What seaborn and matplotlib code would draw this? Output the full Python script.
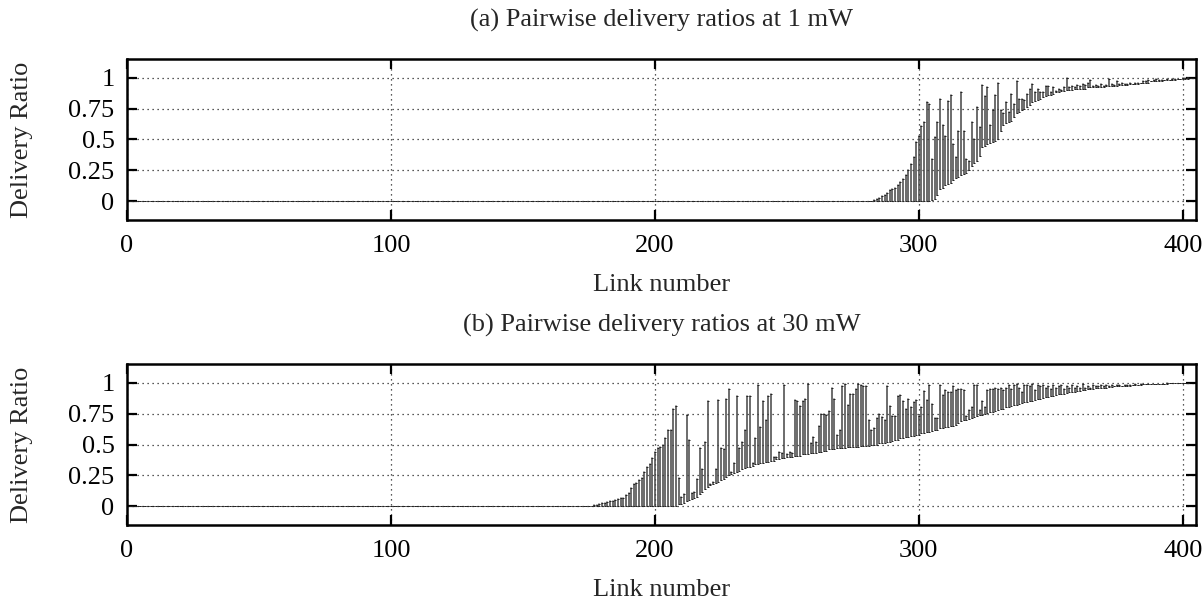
import numpy as np
import pandas as pd
import matplotlib
matplotlib.use("Agg")
import matplotlib.pyplot as plt
import seaborn as sns

# ---------------- data ----------------
TITLE_A = "(a) Pairwise delivery ratios at 1 mW"
TITLE_B = "(b) Pairwise delivery ratios at 30 mW"
X_LABEL = "Link number"
Y_LABEL = "Delivery Ratio"
X_TICKS = [0, 100, 200, 300, 400]
Y_TICKS = [0, 0.25, 0.5, 0.75, 1]
Y_TICK_LABELS = ["0", "0.25", "0.5", "0.75", "1"]

# panel (a): 405 links; links 0..304 have lower bound 0, links 0..282 upper bound 0
LOW_A = [0.0] * 305 + [
    .01, .02, .05, .10, .11, .13, .14, .15, .17, .19,
    .20, .21, .22, .23, .25, .29, .31, .33, .37, .44,
    .45, .46, .47, .48, .49, .50, .57, .62, .63, .64,
    .65, .68, .71, .72, .74, .75, .76, .78, .80, .81,
    .82, .83, .84, .85, .86, .86, .87, .88, .88, .89,
    .89, .90, .90, .90, .91, .91, .91, .91, .91, .92,
    .92, .92, .92, .92, .92, .92, .93, .93, .93, .93,
    .93, .94, .94, .94, .94, .95, .95, .95, .95, .96,
    .96, .96, .96, .97, .97, .97, .97, .97, .98, .98,
    .98, .98, .98, .99, .99, .99, .99, .99, 1.0, 1.0]
HIGH_A = [0.0] * 283 + [
    .01, .02, .03, .04, .05, .07, .09, .10, .11, .13,
    .16, .18, .21, .25, .30, .36, .48, .53, .61, .64,
    .80, .79, .34, .52, .64, .83, .62, .53, .81, .86,
    .46, .36, .57, .88, .57, .34, .33, .64, .50, .76,
    .60, .94, .85, .92, .62, .74, .86, .96, .74, .71,
    .80, .72, .87, .79, .97, .83, .83, .82, .87, .91,
    .95, .88, .91, .88, .88, .93, .93, .88, .92, .89,
    .91, .90, .92, 1.0, .92, .93, .92, .94, .93, .95,
    .94, .96, .98, .93, .94, .93, .95, .93, .94, .99,
    .95, .94, .97, .95, .96, .95, .95, .96, .95, .96,
    .96, .96, .97, .97, .98, .97, .98, .99, .98, .98,
    .98, .99, .98, .99, .99, .99, .99, 1.0, 1.0, 1.0,
    1.0, 1.0]

# panel (b): 403 links
LOW_B = [0.0] * 209 + [
    .02, .02, .03, .04, .05, .06, .07, .08, .10, .12,
    .14, .16, .17, .18, .19, .20, .21, .22, .24, .25,
    .26, .27, .28, .29, .30, .31, .32, .32, .33, .34,
    .34, .35, .35, .36, .36, .37, .37, .38, .38, .39,
    .39, .40, .40, .40, .41, .41, .41, .42, .42, .42,
    .43, .43, .43, .44, .44, .45, .45, .46, .46, .46,
    .47, .47, .47, .47, .48, .48, .48, .48, .48, .49,
    .49, .49, .49, .50, .50, .50, .51, .51, .51, .52,
    .52, .53, .54, .54, .55, .55, .56, .56, .57, .57,
    .58, .58, .59, .59, .60, .60, .61, .62, .62, .63,
    .63, .64, .645, .65, .65, .66, .67, .69, .695, .70,
    .705, .71, .72, .73, .735, .74, .75, .755, .76, .765,
    .77, .78, .785, .79, .80, .805, .81, .815, .82, .83,
    .835, .84, .845, .85, .855, .86, .865, .87, .875, .88,
    .885, .89, .895, .90, .905, .91, .91, .915, .92, .92,
    .925, .93, .935, .94, .94, .945, .95, .95, .955, .955,
    .96, .96, .96, .965, .965, .97, .97, .97, .97, .975,
    .975, .975, .98, .98, .98, .98, .985, .985, .985, .985,
    .99, .99, .99, .99, .99, .995, .995, .995, 1.0, 1.0,
    1.0, 1.0, 1.0, 1.0]
HIGH_B = [0.0] * 176 + [
    .005, .01, .015, .02, .025, .03, .035, .04, .045, .05,
    .06, .07, .07, .09, .11, .15, .18, .19, .21, .23,
    .28, .32, .34, .39, .44, .47, .48, .50, .55, .62,
    .62, .79, .81, .23, .08, .10, .74, .54, .11, .12,
    .22, .47, .30, .52, .85, .18, .20, .30, .86, .47,
    .46, .87, .95, .28, .35, .89, .47, .52, .62, .89,
    .89, .35, .55, .98, .64, .85, .70, .89, .91, .40,
    .40, .44, .43, .98, .42, .44, .43, .86, .85, .81,
    .85, .87, .99, .51, .56, .52, .65, .75, .75, .74,
    .77, .96, .87, .58, .62, .97, .99, .82, .91, .91,
    .95, .99, .98, .97, .97, .70, .62, .63, .71, .75,
    .72, .70, .97, .81, .73, .73, .89, .90, .85, .79,
    .87, .80, .84, .86, .73, .80, .93, .86, .98, .83,
    .71, .71, .98, .90, .94, .92, .92, .97, .94, .95,
    .95, .94, .73, .78, .80, .98, .98, .78, .85, .80,
    .94, .95, .95, .96, .95, .96, .94, .96, .98, .95,
    .98, .99, .96, .92, .98, .98, .97, .99, .94, .98,
    .97, .98, .96, .97, .95, .98, .96, .97, .98, .95,
    .97, .96, .98, .96, .97, .96, .99, .96, .97, .96,
    .98, .97, .97, .98, .97, .98, .97, .98, .97, .98,
    .98, .97, .98, .98, .98, .98, .99, .98, .99, .99,
    .99, .99, .99, .99, .99, .99, .99, .99, .99, 1.0,
    1.0, 1.0, 1.0, 1.0, 1.0, 1.0, 1.0]


def long_frame(low, high):
    n = len(low)
    links = np.arange(n)
    return pd.DataFrame({
        "link": np.concatenate([links, links]),
        "ratio": np.concatenate([np.asarray(low), np.asarray(high)]),
    })


# ---------------- style ----------------
sns.set_theme(style="ticks")
plt.rcParams["font.family"] = ["Liberation Serif", "DejaVu Serif"]
plt.rcParams["axes.linewidth"] = 1.8
plt.rcParams["axes.edgecolor"] = "black"

FS = 19
fig = plt.figure(figsize=(12.04, 6.02), dpi=100)

L, R = 127 / 1204, 1196 / 1204
panels = [
    (LOW_A, HIGH_A, TITLE_A, 59, 220),
    (LOW_B, HIGH_B, TITLE_B, 364, 525),
]

for low, high, title, top_px, bot_px in panels:
    ax = fig.add_axes([L, 1 - bot_px / 602, R - L, (bot_px - top_px) / 602])
    df = long_frame(low, high)
    sns.lineplot(data=df, x="link", y="ratio", units="link", estimator=None,
                 sort=True, color="#444444", lw=1.1, marker="_",
                 markersize=1.4, markeredgewidth=0.7,
                 markeredgecolor="#222222", markerfacecolor="#222222",
                 ax=ax, legend=False)
    ax.set_xlim(0, 405)
    ax.set_ylim(-0.15, 1.15)
    ax.set_xticks(X_TICKS)
    ax.set_xticklabels([str(t) for t in X_TICKS], fontsize=FS)
    ax.set_yticks(Y_TICKS)
    ax.set_yticklabels(Y_TICK_LABELS, fontsize=FS)
    ax.set_xlabel("")
    ax.set_ylabel("")
    ax.grid(True, color="#222222", linestyle=(0, (1, 3)), linewidth=0.9)
    ax.set_axisbelow(True)
    ax.tick_params(direction="in", length=7, width=1.6, top=True, right=True,
                   labeltop=False, labelright=False, colors="black")
    ax.tick_params(axis="x", pad=11)
    ax.tick_params(axis="y", pad=9)
    for s in ax.spines.values():
        s.set_visible(True)
        s.set_linewidth(1.8)
        s.set_color("black")

    xc = (L + R) / 2
    fig.text(xc, 1 - (top_px - 39) / 602, title, ha="center", va="center",
             fontsize=FS)
    fig.text(xc, 1 - (bot_px + 65) / 602, X_LABEL, ha="center", va="center",
             fontsize=FS)
    fig.text(22 / 1204, 1 - ((top_px + bot_px) / 2) / 602, Y_LABEL,
             ha="center", va="center", rotation=90, fontsize=FS)

fig.savefig("out.png", dpi=100)
